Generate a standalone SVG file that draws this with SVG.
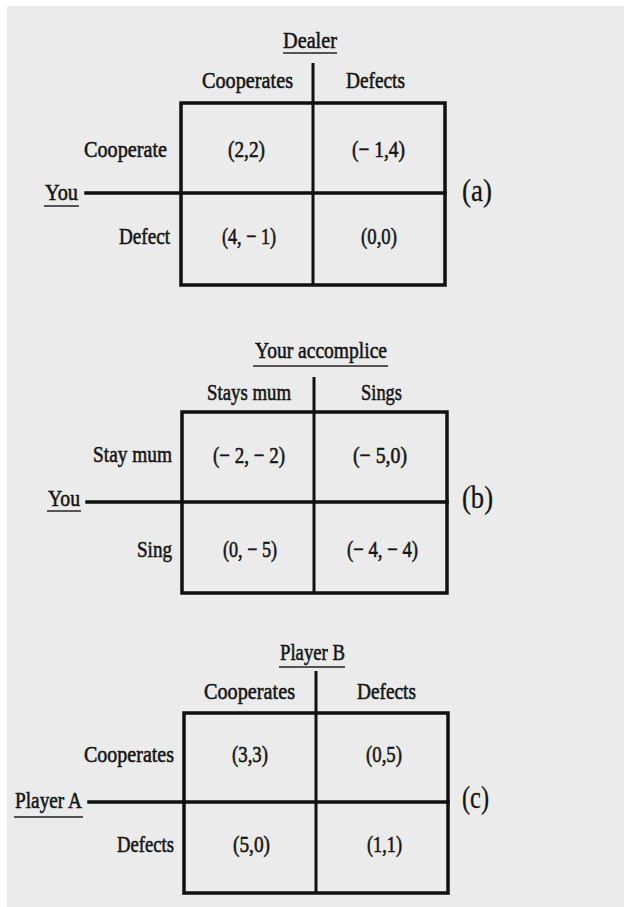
<svg xmlns="http://www.w3.org/2000/svg" width="624" height="907" viewBox="0 0 624 907">
<style>
text{font-family:"Liberation Serif","DejaVu Serif",serif;fill:#141414;stroke:#141414;stroke-width:0.55}
.t{font-size:23px}
.tag{font-size:32px;stroke-width:0.3}
.ln{stroke:#111;stroke-width:3.5;fill:none;stroke-linecap:square}
.vl{stroke:#111;stroke-width:3;fill:none}
.ul{stroke:#222;stroke-width:1.6}
</style>
<rect width="624" height="907" fill="#ffffff"/>
<rect x="7" y="6" width="617" height="901" fill="#ebebeb"/>

<g id="connectors">
  <!-- panel a -->
  <rect class="ln" x="181" y="103" width="264" height="182"/>
  <line class="vl" x1="313" y1="63" x2="313" y2="285"/>
  <line class="ln" x1="86" y1="193" x2="445" y2="193"/>
  <!-- panel b -->
  <rect class="ln" x="182" y="412" width="265" height="181"/>
  <line class="vl" x1="314" y1="377" x2="314" y2="593"/>
  <line class="ln" x1="87" y1="502" x2="447" y2="502"/>
  <!-- panel c -->
  <rect class="ln" x="184" y="713" width="264" height="180"/>
  <line class="vl" x1="316" y1="671" x2="316" y2="893"/>
  <line class="ln" x1="89" y1="802" x2="448" y2="802"/>
</g>

<g id="panel-a">
  <g id="a-dealer"><text class="t" x="283" y="48" textLength="54" lengthAdjust="spacingAndGlyphs">Dealer</text><line class="ul" x1="283" y1="53" x2="337" y2="53"/></g>
  <g id="a-col1"><text class="t" x="202" y="88" textLength="91" lengthAdjust="spacingAndGlyphs">Cooperates</text></g>
  <g id="a-col2"><text class="t" x="346" y="88" textLength="59" lengthAdjust="spacingAndGlyphs">Defects</text></g>
  <g id="a-row1"><text class="t" x="84" y="157" textLength="83" lengthAdjust="spacingAndGlyphs">Cooperate</text></g>
  <g id="a-row2"><text class="t" x="119" y="244" textLength="51" lengthAdjust="spacingAndGlyphs">Defect</text></g>
  <g id="a-you"><text class="t" x="45" y="200" textLength="33" lengthAdjust="spacingAndGlyphs">You</text><line class="ul" x1="44" y1="206" x2="79" y2="206"/></g>
  <g id="a-c11"><text class="t" x="228" y="157" textLength="37" lengthAdjust="spacingAndGlyphs">(2,2)</text></g>
  <g id="a-c12"><text class="t" x="352" y="157" textLength="53" lengthAdjust="spacingAndGlyphs">(− 1,4)</text></g>
  <g id="a-c21"><text class="t" x="222" y="244" textLength="54" lengthAdjust="spacingAndGlyphs">(4, − 1)</text></g>
  <g id="a-c22"><text class="t" x="361" y="244" textLength="36" lengthAdjust="spacingAndGlyphs">(0,0)</text></g>
  <g id="a-tag"><text class="tag" x="462" y="201" textLength="30" lengthAdjust="spacingAndGlyphs">(a)</text></g>
</g>

<g id="panel-b">
  <g id="b-acc"><text class="t" x="255" y="358" textLength="132" lengthAdjust="spacingAndGlyphs">Your accomplice</text><line class="ul" x1="253" y1="366" x2="388" y2="366"/></g>
  <g id="b-col1"><text class="t" x="207" y="400" textLength="84" lengthAdjust="spacingAndGlyphs">Stays mum</text></g>
  <g id="b-col2"><text class="t" x="361" y="400" textLength="41" lengthAdjust="spacingAndGlyphs">Sings</text></g>
  <g id="b-row1"><text class="t" x="93" y="462" textLength="79" lengthAdjust="spacingAndGlyphs">Stay mum</text></g>
  <g id="b-row2"><text class="t" x="137" y="557" textLength="35" lengthAdjust="spacingAndGlyphs">Sing</text></g>
  <g id="b-you"><text class="t" x="48" y="506" textLength="32" lengthAdjust="spacingAndGlyphs">You</text><line class="ul" x1="47" y1="511" x2="81" y2="511"/></g>
  <g id="b-c11"><text class="t" x="213" y="463" textLength="72" lengthAdjust="spacingAndGlyphs">(− 2, − 2)</text></g>
  <g id="b-c12"><text class="t" x="353" y="463" textLength="54" lengthAdjust="spacingAndGlyphs">(− 5,0)</text></g>
  <g id="b-c21"><text class="t" x="223" y="557" textLength="54" lengthAdjust="spacingAndGlyphs">(0, − 5)</text></g>
  <g id="b-c22"><text class="t" x="347" y="557" textLength="71" lengthAdjust="spacingAndGlyphs">(− 4, − 4)</text></g>
  <g id="b-tag"><text class="tag" x="462" y="508" textLength="31" lengthAdjust="spacingAndGlyphs">(b)</text></g>
</g>

<g id="panel-c">
  <g id="c-pb"><text class="t" x="280" y="660" textLength="65" lengthAdjust="spacingAndGlyphs">Player B</text><line class="ul" x1="279" y1="667" x2="345" y2="667"/></g>
  <g id="c-col1"><text class="t" x="204" y="699" textLength="91" lengthAdjust="spacingAndGlyphs">Cooperates</text></g>
  <g id="c-col2"><text class="t" x="357" y="699" textLength="59" lengthAdjust="spacingAndGlyphs">Defects</text></g>
  <g id="c-row1"><text class="t" x="84" y="762" textLength="90" lengthAdjust="spacingAndGlyphs">Cooperates</text></g>
  <g id="c-row2"><text class="t" x="117" y="852" textLength="57" lengthAdjust="spacingAndGlyphs">Defects</text></g>
  <g id="c-pa"><text class="t" x="15" y="808" textLength="67" lengthAdjust="spacingAndGlyphs">Player A</text><line class="ul" x1="14" y1="817" x2="83" y2="817"/></g>
  <g id="c-c11"><text class="t" x="232" y="762" textLength="36" lengthAdjust="spacingAndGlyphs">(3,3)</text></g>
  <g id="c-c12"><text class="t" x="366" y="762" textLength="36" lengthAdjust="spacingAndGlyphs">(0,5)</text></g>
  <g id="c-c21"><text class="t" x="233" y="852" textLength="37" lengthAdjust="spacingAndGlyphs">(5,0)</text></g>
  <g id="c-c22"><text class="t" x="367" y="852" textLength="35" lengthAdjust="spacingAndGlyphs">(1,1)</text></g>
  <g id="c-tag"><text class="tag" x="462" y="808" textLength="27" lengthAdjust="spacingAndGlyphs">(c)</text></g>
</g>
</svg>
